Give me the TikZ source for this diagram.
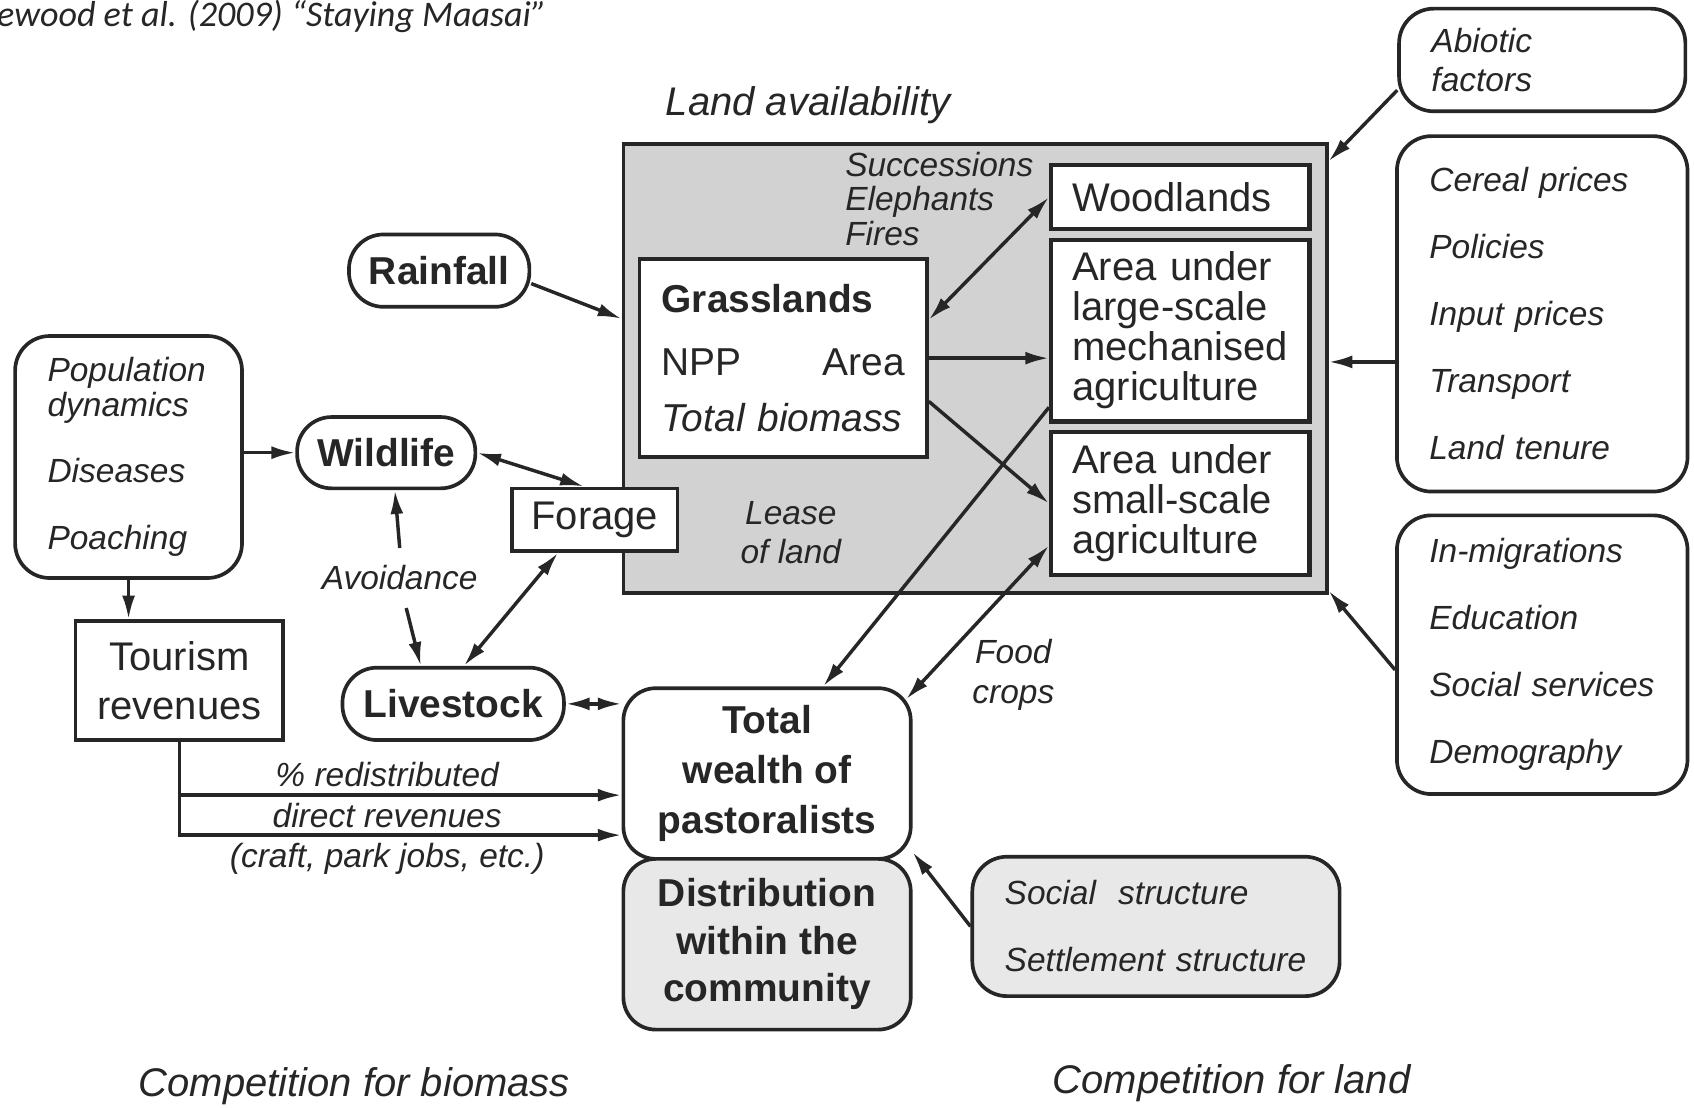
\documentclass[tikz,border=0pt]{standalone}
\usepackage{fontspec}
\setmainfont{Liberation Sans}
\newfontfamily\titlefont{Carlito}
\usetikzlibrary{positioning,calc,arrows.meta}

\begin{document}
\begin{tikzpicture}[
  x=0.5pt,y=-0.5pt,
  every node/.style={text=black!85},
  plainbox/.style={draw=black!85,line width=1.7pt,fill=white,inner sep=0pt,
    align=center,font=\fontsize{18.5}{18.5}\selectfont},
  agribox/.style={plainbox,line width=2pt,align=left,
    minimum width=119.5pt,text width=100pt,inner xsep=9.75pt},
  roundbox/.style={plainbox,rounded corners=15pt,
    font=\fontsize{18}{23}\selectfont\bfseries},
  pillbox/.style={plainbox,rounded corners=16pt,
    font=\fontsize{18}{18}\selectfont\bfseries},
  factorbox/.style={plainbox,rounded corners=16pt,align=left,inner xsep=15pt,
    font=\fontsize{15.5}{16}\selectfont\itshape},
  factor/.style={inner sep=0pt,align=center,
    font=\fontsize{15.5}{16}\selectfont\itshape},
  heading/.style={inner sep=0pt,font=\fontsize{18.5}{20}\selectfont\itshape},
  ]
  \useasboundingbox (0,0) rectangle (1568,1025);
  \node[anchor=west,inner sep=0pt,font=\titlefont\fontsize{16.7}{18}\selectfont\itshape]
    (title) at (-3,15) {ewood et al. (2009) “Staying Maasai”};

  \node[draw=black!85,line width=1.7pt,fill=gray!35,inner sep=0pt,
    minimum width=325.5pt,minimum height=208pt] (land) at (902.5,341) {};
  \node[heading] (landhead) at (748,97) {Land availability};
  \node[agribox,minimum height=29.5pt] (wood) at (1092.5,182.5) {Woodlands};
  \node[agribox,minimum height=84pt] (large) at (1092.5,306)
    {Area under\\large-scale\\mechanised\\agriculture};
  \node[agribox,minimum height=66pt] (small) at (1092.5,466)
    {Area under\\small-scale\\agriculture};
  \node[plainbox,align=left,minimum width=133pt,minimum height=91.5pt,
    text width=112.5pt,inner xsep=10.25pt,font=\fontsize{18}{21}\selectfont]
    (grass) at (725,331.5)
    {\textbf{Grasslands}\\[8pt]NPP\hskip0pt plus 1filll Area\\[5pt]\textit{Total biomass}};
  \node[factor,anchor=west,align=left] (succ) at (782,184) {Successions\\Elephants\\Fires};
  \node[factor] (lease) at (732,493) {Lease\\[2pt]of land};
  \node[plainbox,minimum width=76.5pt,minimum height=29pt] (forage) at (550.5,481) {Forage};

  \node[pillbox,minimum width=83.5pt,minimum height=33.5pt] (rain) at (406.5,250.5) {Rainfall};
  \node[pillbox,minimum width=82.5pt,minimum height=33pt] (wild) at (357.5,419) {Wildlife};
  \node[pillbox,minimum width=102.5pt,minimum height=33.5pt] (live) at (419.5,651.5) {Livestock};
  \node[factorbox,minimum width=105pt,minimum height=112pt,text width=75pt]
    (pop) at (119,423) {Population\\dynamics\\[14.5pt]Diseases\\[15pt]Poaching};
  \node[plainbox,minimum width=96pt,minimum height=55pt,
    font=\fontsize{18.5}{22.5}\selectfont] (tour) at (166,630) {Tourism\\revenues};
  \node[factor,inner ysep=8pt] (avoid) at (370,535) {Avoidance};

  \node[roundbox,minimum width=133pt,minimum height=79pt] (wealth) at (710,716)
    {Total\\wealth of\\pastoralists};
  \node[roundbox,fill=gray!18,minimum width=133pt,minimum height=79pt,
    font=\fontsize{18}{22}\selectfont\bfseries,below=-1.7pt of wealth] (dist)
    {Distribution\\within the\\community};
  \node[factorbox,fill=gray!18,minimum width=170pt,minimum height=64.5pt,text width=140pt]
    (social) at (1070,857.5) {Social~~structure\\[15pt]Settlement structure};
  \node[factor] (food) at (938,625) {Food\\[2.5pt]crops};

  \node[factorbox,minimum width=132.5pt,minimum height=47.5pt,text width=102.5pt]
    (abio) at (1427.5,55.5) {Abiotic\\[2pt]factors};
  \node[factorbox,minimum width=134.5pt,minimum height=164.5pt,text width=104.5pt]
    (cereal) at (1427.5,290.5)
    {Cereal prices\\[15pt]Policies\\[15pt]Input prices\\[15pt]Transport\\[15pt]Land tenure};
  \node[factorbox,minimum width=134.5pt,minimum height=129pt,text width=104.5pt]
    (inmig) at (1427.5,606)
    {In-migrations\\[15pt]Education\\[15pt]Social services\\[15pt]Demography};

  \node[heading] (bioshead) at (328,1005) {Competition for biomass};
  \node[heading] (landcomp) at (1140,1003) {Competition for land};

  \coordinate (landin) at ([yshift=3pt]land.east);
  \coordinate (redisin) at ([yshift=-10pt]wealth.west);
  \coordinate (directin) at ([yshift=-28.5pt]wealth.west);
  \begin{scope}[
    draw=black!85,line width=1.6pt,>={Latex[length=11pt,width=6pt]},
    every edge/.style={draw=black!85,line width=1.6pt},
    ]
    \path[->]
    (rain.-8)                   edge ([yshift=23pt]land.west)
    (pop.east |- wild.west)     edge (wild.west)
    (pop.south)                 edge (pop.south |- tour.north)
    (avoid.north)               edge ([xshift=4pt]wild.south)
    ([xshift=3pt]avoid.south)   edge ([xshift=-15pt]live.north)
    (wild.east)                 edge[<->] ([xshift=-5pt]forage.north)
    ([xshift=-17pt]forage.south) edge[<->] ([xshift=5pt]live.north)
    (live.east)                 edge[<->] (live.east -| wealth.west)
    ([yshift=17.75pt]grass.east) edge[<->] (wood.west)
    (grass.east)                edge (grass.east -| large.west)
    ([yshift=-20pt]grass.east)  edge (small.west)
    ([yshift=-35.5pt]large.west) edge ([xshift=26pt]wealth.north)
    ([yshift=-19.5pt]small.west) edge[<->] ([xshift=-3pt,yshift=-6pt]wealth.north east)
    ([yshift=-14pt]abio.west)   edge ([yshift=-9pt]land.north east)
    (cereal.west |- landin)     edge (landin)
    ([yshift=-7pt]inmig.west)   edge ([yshift=2pt]land.south east)
    (social.west)               edge ([yshift=4pt]wealth.south east);
    \draw[->] (tour.south |- redisin) -- node[factor,pos=0.47,above=3pt]{\% redistributed}
      node[factor,pos=0.47,below=3pt]{direct revenues} (redisin);
    \draw[->] (tour.south) |- node[factor,pos=0.735,below=3pt]{(craft, park jobs, etc.)} (directin);
  \end{scope}
\end{tikzpicture}
\end{document}
